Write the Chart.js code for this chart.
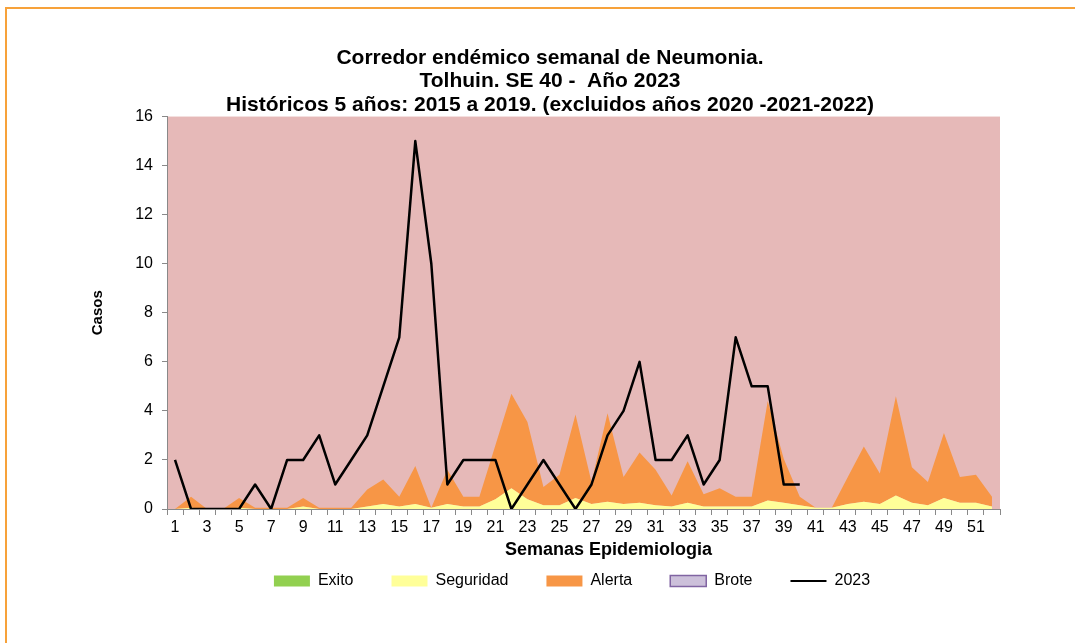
<!DOCTYPE html>
<html>
<head>
<meta charset="utf-8">
<script src="https://cdn.jsdelivr.net/npm/chart.js@4.4.0/dist/chart.umd.min.js"></script>
<style>
body { margin: 0; background: #fff; }
#marco { position: absolute; left: 5px; top: 7px; width: 1090px; height: 660px; border-top: 2px solid #F7A23A; border-left: 2px solid #F7A23A; }
#myChart { position: absolute; left: 0; top: 0; }
</style>
</head>
<body>
<div id="marco"></div>
<canvas id="myChart" width="1075" height="643"></canvas>
<script>
var semanas = ['1','2','3','4','5','6','7','8','9','10','11','12','13','14','15','16','17','18','19','20',
	'21','22','23','24','25','26','27','28','29','30','31','32','33','34','35','36','37','38','39','40',
	'41','42','43','44','45','46','47','48','49','50','51','52'];

// limites del corredor (valor acumulado de cada zona)
var exito = [0,0,0,0,0,0,0,0,0,0,0,0,0,0,0,0,0,0,0,0,0,0,0,0,0,0,
	0,0,0,0,0,0,0,0,0,0,0,0,0,0,0,0,0,0,0,0,0,0,0,0,0,0];
var seguridad = [0,0.05,0,0,0.05,0,0,0,0.1,0,0,0,0.1,0.2,0.1,0.2,0.05,0.2,0.1,0.1,0.4,0.85,0.4,0.15,0.15,0.45,
	0.2,0.3,0.2,0.25,0.15,0.1,0.25,0.1,0.1,0.1,0.1,0.35,0.25,0.15,0.05,0.05,0.2,0.3,0.2,0.55,0.25,0.15,0.45,0.25,0.25,0.1];
var alerta = [0,0.5,0,0,0.45,0.05,0.05,0.05,0.45,0.05,0.05,0.05,0.8,1.2,0.5,1.75,0.05,1.6,0.5,0.5,2.6,4.7,3.55,0.9,1.4,3.85,
	1.1,3.9,1.3,2.3,1.6,0.55,1.95,0.6,0.85,0.5,0.5,4.4,2.05,0.5,0.05,0.05,1.3,2.55,1.45,4.6,1.7,1.1,3.1,1.3,1.4,0.5];
var casos2023 = [2,0,0,0,0,1,0,2,2,3,1,2,3,5,7,15,10,1,2,2,2,0,1,2,1,0,1,3,4,6,2,2,3,1,2,7,5,5,1,1];

var titulo = ['Corredor endémico semanal de Neumonia.', 'Tolhuin. SE 40 -  Año 2023',
	'Históricos 5 años: 2015 a 2019. (excluidos años 2020 -2021-2022)'];

Chart.defaults.font.family = '"Liberation Sans", Arial, sans-serif';
Chart.defaults.color = '#000';

var fondo = {
	id: 'fondo',
	beforeDraw: function(chart){
		var a = chart.chartArea, c = chart.ctx;
		c.save();
		c.fillStyle = '#E6B9B8';
		c.fillRect(a.left, a.top, a.right - a.left, a.bottom - a.top);
		c.restore();
	},
	afterLayout: function(chart){
		chart.legend.left += 22;
		chart.legend.right += 22;
	},
	afterDraw: function(chart){
		var a = chart.chartArea, c = chart.ctx;
		c.save();
		c.font = 'bold 18px "Liberation Sans", Arial, sans-serif';
		c.fillStyle = '#000';
		c.textAlign = 'center';
		c.textBaseline = 'middle';
		c.fillText('Semanas Epidemiologia', (a.left + a.right) / 2 + 25, a.bottom + 41);
		c.restore();
	}
};

const ctx = document.getElementById('myChart');

new Chart(ctx, {
	type: 'line',
	plugins: [fondo],
	data: {
		labels: semanas,
		datasets: [
		{
			label: 'Exito',
			data: exito,
			backgroundColor: '#92D050',
			borderColor: 'rgba(0,0,0,0)',
			borderWidth: 0,
			pointRadius: 0,
			pointBorderWidth: 0,
			pointStyle: 'rect',
			fill: 'origin'
		},
		{
			label: 'Seguridad',
			data: seguridad,
			backgroundColor: '#FFFF99',
			borderColor: 'rgba(0,0,0,0)',
			borderWidth: 0,
			pointRadius: 0,
			pointBorderWidth: 0,
			pointStyle: 'rect',
			fill: '-1'
		},
		{
			label: 'Alerta',
			data: alerta,
			backgroundColor: '#F79646',
			borderColor: 'rgba(0,0,0,0)',
			borderWidth: 0,
			pointRadius: 0,
			pointBorderWidth: 0,
			pointStyle: 'rect',
			fill: '-1'
		},
		{
			label: 'Brote',
			data: [],
			backgroundColor: '#CCC0DA',
			borderColor: '#8064A2',
			pointRadius: 0,
			pointBorderWidth: 1.5,
			pointStyle: 'rect',
			fill: false
		},
		{
			label: '2023',
			data: casos2023,
			borderColor: '#000',
			backgroundColor: '#000',
			borderWidth: 2.5,
			borderJoinStyle: 'round',
			pointRadius: 0,
			pointBorderWidth: 2,
			pointStyle: 'line',
			tension: 0,
			fill: false,
			order: -1
		}
		]
	},
	options: {
		responsive: false,
		animation: false,
		layout: { padding: { left: 100, right: 75, top: 0, bottom: 44 } },
		plugins: {
			title: {
				display: true,
				text: titulo,
				color: '#000',
				font: { size: 21, weight: 'bold', lineHeight: 1.12 },
				padding: { top: 46, bottom: 0 }
			},
			legend: {
				position: 'bottom',
				labels: {
					usePointStyle: true,
					pointStyleWidth: 36,
					boxHeight: 11,
					padding: 38,
					color: '#000',
					font: { size: 16 },
					sort: function(a, b){ return a.datasetIndex - b.datasetIndex; }
				}
			},
			tooltip: { enabled: false }
		},
		scales: {
			x: {
				offset: true,
				grid: { offset: true, drawOnChartArea: false, tickLength: 6, color: '#898989' },
				border: { color: '#898989' },
				ticks: {
					autoSkip: false,
					maxRotation: 0,
					padding: 3,
					font: { size: 16 },
					callback: function(v, i){ return i % 2 === 0 ? this.getLabelForValue(v) : ''; }
				},
				afterFit: function(s){ s.height = 26; }
			},
			y: {
				min: 0,
				max: 16,
				ticks: { stepSize: 2, padding: 9, font: { size: 16 } },
				grid: { drawOnChartArea: false, tickLength: 5, color: '#898989' },
				border: { color: '#898989' },
				title: {
					display: true,
					text: 'Casos',
					font: { size: 15, weight: 'bold' },
					padding: { top: -11, bottom: 0 }
				},
				afterFit: function(s){ s.width = 67; }
			}
		}
	}
});
</script>
</body>
</html>
